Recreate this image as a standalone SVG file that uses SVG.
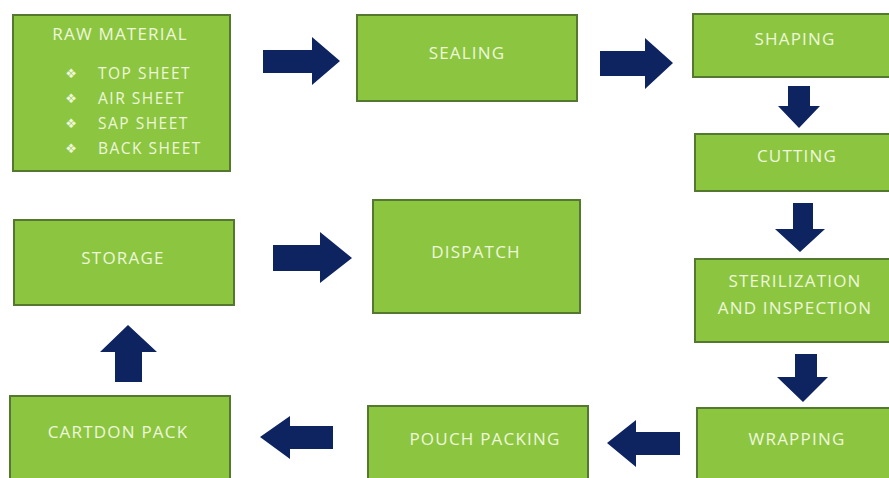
<svg xmlns="http://www.w3.org/2000/svg" width="889" height="478" viewBox="0 0 889 478">
<style>
.box{fill:#8cc640;stroke:#54782f;stroke-width:2}
.t{font-family:"Open Sans","Liberation Sans",sans-serif;font-size:17px;letter-spacing:1.2px;fill:#eef6dc;text-anchor:middle;dominant-baseline:central}
.s{font-family:"Open Sans","Liberation Sans",sans-serif;font-size:15.5px;letter-spacing:1.5px;fill:#eef6dc;dominant-baseline:central}
.b{font-family:"DejaVu Sans",sans-serif;font-size:13px;fill:#eef6dc;text-anchor:middle;dominant-baseline:central}
.ar{fill:#0d2461}
</style>
<rect width="889" height="478" fill="#ffffff"/>
<g id="raw-material">
<rect class="box" x="13" y="15" width="217" height="156"/>
<text class="t" x="120" y="33">RAW MATERIAL</text>
<text class="b" x="71" y="73">❖</text><text class="s" x="98" y="73">TOP SHEET</text>
<text class="b" x="71" y="98">❖</text><text class="s" x="98" y="98">AIR SHEET</text>
<text class="b" x="71" y="123">❖</text><text class="s" x="98" y="123">SAP SHEET</text>
<text class="b" x="71" y="148">❖</text><text class="s" x="98" y="148">BACK SHEET</text>
</g>
<g id="sealing"><rect class="box" x="357" y="15" width="220" height="86"/><text class="t" x="467" y="52">SEALING</text></g>
<g id="shaping"><rect class="box" x="693" y="14" width="200" height="63"/><text class="t" x="795" y="38">SHAPING</text></g>
<g id="cutting"><rect class="box" x="695" y="134" width="200" height="57"/><text class="t" x="797" y="155">CUTTING</text></g>
<g id="sterilization"><rect class="box" x="695" y="259" width="200" height="83"/><text class="t" x="795" y="280">STERILIZATION</text><text class="t" x="795" y="307">AND INSPECTION</text></g>
<g id="wrapping"><rect class="box" x="697" y="408" width="200" height="75"/><text class="t" x="797" y="438">WRAPPING</text></g>
<g id="pouch-packing"><rect class="box" x="368" y="406" width="220" height="76"/><text class="t" x="485" y="438">POUCH PACKING</text></g>
<g id="cartdon-pack"><rect class="box" x="10" y="396" width="220" height="86"/><text class="t" x="118" y="431">CARTDON PACK</text></g>
<g id="storage"><rect class="box" x="14" y="220" width="220" height="85"/><text class="t" x="123" y="257">STORAGE</text></g>
<g id="dispatch"><rect class="box" x="373" y="200" width="207" height="113"/><text class="t" x="476" y="251">DISPATCH</text></g>
<g id="connectors">
<polygon class="ar" points="263,50 312,50 312,37 340,61 312,85 312,73 263,73"/>
<polygon class="ar" points="600,51 645,51 645,38 673,63 645,89 645,76 600,76"/>
<polygon class="ar" points="788,86 810,86 810,106 820,106 799,128 778,106 788,106"/>
<polygon class="ar" points="793,203 813,203 813,229 825,229 800,252 775,229 793,229"/>
<polygon class="ar" points="795,354 817,354 817,377 828,377 803,402 777,377 795,377"/>
<polygon class="ar" points="273,245 320,245 320,232 352,258 320,283 320,271 273,271"/>
<polygon class="ar" points="680,432 636,432 636,420 607,443 636,467 636,455 680,455"/>
<polygon class="ar" points="333,426 290,426 290,416 260,437 290,459 290,449 333,449"/>
<polygon class="ar" points="115,382 115,352 100,352 128,325 157,352 142,352 142,382"/>
</g>
</svg>
